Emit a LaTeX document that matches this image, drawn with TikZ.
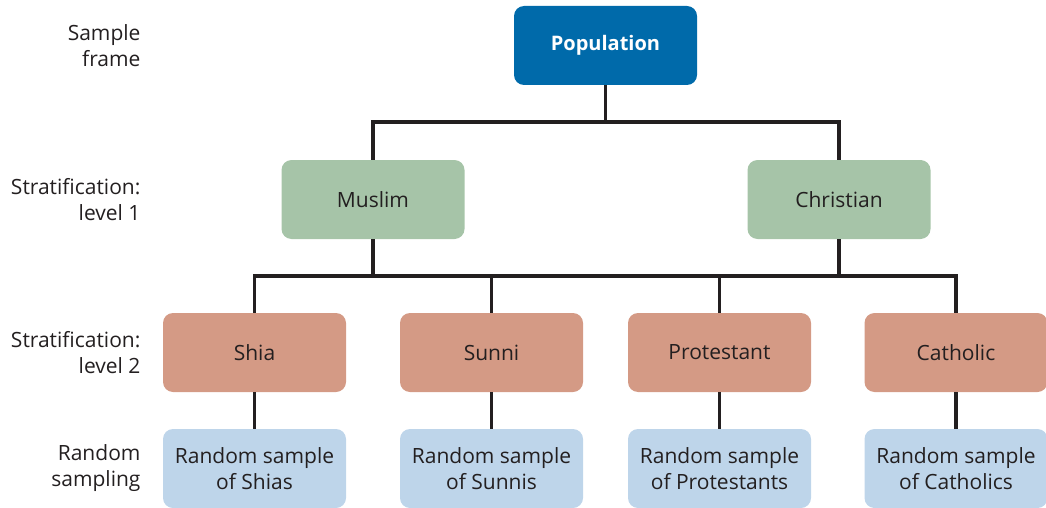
\documentclass[tikz,border=0pt]{standalone}
\usepackage{fontspec}
\setmainfont{Open Sans}
\definecolor{popblue}{HTML}{006AAA}
\definecolor{lvlgreen}{HTML}{A6C4A8}
\definecolor{lvlsalmon}{HTML}{D49A85}
\definecolor{smpblue}{HTML}{BED5EA}
\definecolor{linedark}{HTML}{231F20}
\begin{document}
\begin{tikzpicture}[x=1pt,y=-1pt,
  box/.style={rounded corners=10pt, minimum width=183pt, minimum height=79pt, inner sep=0pt, align=center, text=linedark, font=\fontsize{21}{26}\selectfont},
  popbox/.style={box, fill=popblue, text=white, font=\fontsize{20}{26}\selectfont\bfseries},
  l1box/.style={box, fill=lvlgreen},
  l2box/.style={box, fill=lvlsalmon},
  smpbox/.style={box, fill=smpblue},
  side/.style={anchor=east, align=right, text=linedark, font=\fontsize{21}{26}\selectfont},
  conn/.style={draw=linedark, line width=3.5pt}]
\useasboundingbox (0,0) rectangle (1046,508);
\node[popbox] (pop) at (605.5,45.5) {Population};
\node[l1box] (mus) at (373,199.5) {Muslim};
\node[l1box] (chr) at (839,199.5) {Christian};
\node[l2box] (shia) at (254.5,352.5) {Shia};
\node[l2box] (sunni) at (491.5,352.5) {Sunni};
\node[l2box] (prot) at (719.5,352.5) {Protestant};
\node[l2box] (cath) at (956,352.5) {Catholic};
\node[smpbox] (rs1) at (254.5,468.5) {Random sample\\of Shias};
\node[smpbox] (rs2) at (491.5,468.5) {Random sample\\of Sunnis};
\node[smpbox] (rs3) at (719.5,468.5) {Random sample\\of Protestants};
\node[smpbox] (rs4) at (956,468.5) {Random sample\\of Catholics};
\coordinate (h1) at (0,122);
\coordinate (h2) at (0,276);
\draw[conn] (pop.south) -- (pop.south |- h1);
\draw[conn] (mus.north) -- (mus.north |- h1) -- (chr.north |- h1) -- (chr.north);
\draw[conn] (mus.south) -- (mus.south |- h2);
\draw[conn] (chr.south) -- (chr.south |- h2);
\draw[conn] (shia.north) -- (shia.north |- h2) -- (cath.north |- h2) -- (cath.north);
\draw[conn] (sunni.north) -- (sunni.north |- h2);
\draw[conn] (prot.north) -- (prot.north |- h2);
\draw[conn] (shia.south) -- (rs1.north);
\draw[conn] (sunni.south) -- (rs2.north);
\draw[conn] (prot.south) -- (rs3.north);
\draw[conn] (cath.south) -- (rs4.north);
\node[side] (lab0) at (144,45.5) {Sample\\frame};
\node[side] (lab1) at (144,199.5) {Stratification:\\level 1};
\node[side] (lab2) at (144,352.5) {Stratification:\\level 2};
\node[side] (lab3) at (144,468.5) {Random\\sampling};
\end{tikzpicture}
\end{document}
